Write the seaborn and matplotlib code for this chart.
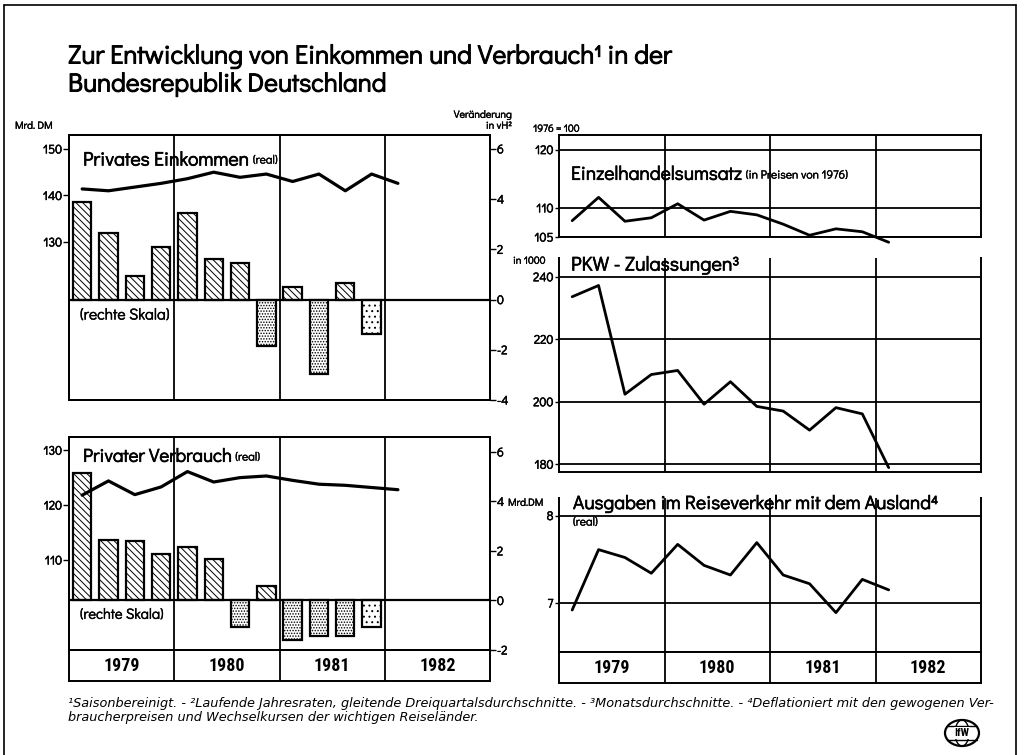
import matplotlib
matplotlib.use("Agg")
import matplotlib.pyplot as plt
import matplotlib.patheffects as pe
import seaborn as sns
from matplotlib.patches import Ellipse

# quarters 1979Q1 ... 1982Q4 -> index 0..15
years = ["1979", "1980", "1981", "1982"]
q_bars = list(range(12))   # 1979Q1 - 1981Q4
q_line = list(range(13))   # 1979Q1 - 1982Q1

# Privates Einkommen (real): Niveau Mrd. DM (links), Veränderung in vH (rechts)
einkommen_niveau = [141.4, 141.0, 141.8, 142.6, 143.6, 145.0, 143.9, 144.6, 143.0, 144.6, 141.0, 144.6, 142.6]
einkommen_veraend = [3.88, 2.66, 0.93, 2.09, 3.45, 1.63, 1.47, -1.84, 0.51, -2.96, 0.66, -1.38]

# Privater Verbrauch (real)
verbrauch_niveau = [121.8, 124.4, 121.9, 123.3, 126.1, 124.2, 125.0, 125.3, 124.5, 123.8, 123.6, 123.2, 122.8]
verbrauch_veraend = [5.16, 2.44, 2.40, 1.87, 2.17, 1.67, -1.09, 0.60, -1.60, -1.43, -1.43, -1.07]

# Einzelhandelsumsatz (1976 = 100)
einzelhandel = [107.8, 111.8, 107.7, 108.3, 110.7, 107.9, 109.4, 108.8, 107.2, 105.3, 106.4, 105.9, 104.1]
# PKW-Zulassungen (in 1000)
pkw = [233.6, 237.2, 202.4, 208.7, 210.0, 199.2, 206.4, 198.5, 197.0, 190.9, 198.1, 196.1, 178.9]
# Ausgaben im Reiseverkehr (Mrd. DM)
reise = [6.92, 7.61, 7.52, 7.34, 7.67, 7.43, 7.32, 7.69, 7.32, 7.22, 6.89, 7.27, 7.15]

sns.set_style("ticks")
MAIN = ["Didact Gothic", "DejaVu Sans"]
COND = ["Roboto Condensed", "DejaVu Sans"]
plt.rcParams["font.family"] = MAIN
plt.rcParams["axes.unicode_minus"] = False
plt.rcParams["hatch.linewidth"] = 0.7
for k in ["text.color", "axes.labelcolor", "xtick.color", "ytick.color", "axes.edgecolor"]:
    plt.rcParams[k] = "black"

W, H = 1029, 755
BOLDISH = [pe.withStroke(linewidth=0.7, foreground="black")]


def rect(x0, y0, x1, y1):
    return [x0 / W, 1 - y1 / H, (x1 - x0) / W, (y1 - y0) / H]


def fx(x, y):
    return x / W, 1 - y / H


fig = plt.figure(figsize=(10.29, 7.55), dpi=100)
renderer = fig.canvas.get_renderer()


def style_axis(ax, top=True):
    for s in ax.spines.values():
        s.set_linewidth(1.4)
        s.set_color("black")
    ax.spines["top"].set_visible(top)
    ax.set_xlim(-0.5, 15.5)
    ax.set_xticks([])
    ax.set_xlabel("")
    ax.set_ylabel("")
    ax.tick_params(axis="y", length=4, width=1, labelsize=9, pad=1, colors="black")
    for lab in ax.get_yticklabels():
        lab.set_path_effects([pe.withStroke(linewidth=0.4, foreground="black")])


def year_lines(ax):
    for b in [3.5, 7.5, 11.5]:
        ax.axvline(b, color="black", lw=1.3, zorder=1)


def year_band(r):
    band = fig.add_axes(r)
    style_axis(band)
    band.set_yticks([])
    band.set_ylim(0, 1)
    year_lines(band)
    for i, y in enumerate(years):
        band.text(1.5 + 4 * i, 0.47, y, ha="center", va="center", fontsize=13,
                  fontweight="bold", family=COND)


def left_panel(r, niveau, veraend, lim_l, lim_r, ticks_l, ticks_r):
    ax_l = fig.add_axes(r)
    ax_r = ax_l.twinx()
    sns.barplot(x=q_bars, y=veraend, ax=ax_r, native_scale=True, width=0.7,
                color="white", edgecolor="black", linewidth=1.6)
    for i, p in enumerate(ax_r.patches):
        p.set_facecolor("white")
        p.set_edgecolor("black")
        if i == len(veraend) - 1 and veraend[i] < 0:
            p.set_hatch("...")
        elif p.get_height() >= 0:
            p.set_hatch("\\\\\\\\\\")
        else:
            p.set_hatch("......")
    ax_r.axhline(0, color="black", lw=1.6)
    year_lines(ax_r)
    sns.lineplot(x=q_line, y=niveau, ax=ax_l, color="black", lw=2.3)
    ax_l.set_zorder(ax_r.get_zorder() + 1)
    ax_l.patch.set_visible(False)
    ax_l.set_ylim(*lim_l)
    ax_l.set_yticks(ticks_l)
    ax_r.set_ylim(*lim_r)
    ax_r.set_yticks(ticks_r)
    for ax in (ax_l, ax_r):
        style_axis(ax)
    ax_r.tick_params(axis="y", right=True, labelright=True)
    ax_l.tick_params(axis="y", left=True, labelleft=True)
    return ax_l, ax_r


def right_panel(r, values, lim, ticks, top_spine=False):
    ax = fig.add_axes(r)
    sns.lineplot(x=q_line, y=values, ax=ax, color="black", lw=2.0)
    ax.lines[-1].set_clip_on(False)
    ax.set_ylim(*lim)
    ax.set_yticks(ticks)
    style_axis(ax, top_spine)
    ax.tick_params(axis="y", left=True, length=3)
    for t in ticks:
        ax.axhline(t, color="black", lw=1.3, zorder=1)
    year_lines(ax)
    return ax


# left side
left_panel(rect(69, 135, 490, 400), einkommen_niveau, einkommen_veraend,
           (96, 153), (-3.95, 6.55), [130, 140, 150], [-4, -2, 0, 2, 4, 6])
left_panel(rect(69, 437, 490, 650), verbrauch_niveau, verbrauch_veraend,
           (93.6, 132.4), (-2, 6.6), [110, 120, 130], [-2, 0, 2, 4, 6])
year_band(rect(69, 650, 490, 681))

# right side
right_panel(rect(559, 135, 981, 237), einzelhandel, (105, 122.5), [105, 110, 120], top_spine=True)
right_panel(rect(559, 258, 981, 472), pkw, (177.5, 246), [180, 200, 220, 240])
right_panel(rect(559, 498, 981, 652), reise, (6.44, 8.2), [7, 8])
year_band(rect(559, 652, 981, 683))


def fit_text(x, y, s, width, **kw):
    t = fig.text(*fx(x, y), s, ha="left", va="center", fontsize=10, **kw)
    w = t.get_window_extent(renderer).width
    t.set_fontsize(10 * width / w)
    return t


def title_with_note(x, y, main, width, note=None, note_size=8.5):
    t = fit_text(x, y, main, width, path_effects=[pe.withStroke(linewidth=0.5, foreground="black")])
    bb = t.get_window_extent(renderer)
    if note:
        fig.text((bb.x1 + 4) / W, 1 - y / H, note, ha="left", va="center", fontsize=note_size,
                 path_effects=[pe.withStroke(linewidth=0.3, foreground="black")])


# title
fit_text(68, 56, "Zur Entwicklung von Einkommen und Verbrauch\u00b9 in der", 607, path_effects=BOLDISH)
fit_text(68, 84, "Bundesrepublik Deutschland", 320, path_effects=BOLDISH)

# axis unit labels
small = dict(fontsize=7.5, va="center", path_effects=[pe.withStroke(linewidth=0.3, foreground="black")])
fig.text(*fx(15, 126), "Mrd. DM", **small)
fig.text(*fx(512, 115), "Veränderung", ha="right", **small)
fig.text(*fx(512, 126), "in vH\u00b2", ha="right", **small)
fig.text(*fx(533, 129), "1976 = 100", **small)
fig.text(*fx(513, 261), "in 1000", **small)
fig.text(*fx(508, 503), "Mrd.DM", **small)

# panel titles
title_with_note(83, 160, "Privates Einkommen", 167, "(real)")
title_with_note(83, 457, "Privater Verbrauch", 150, "(real)")
title_with_note(571, 175, "Einzelhandelsumsatz", 172, "(in Preisen von 1976)")
title_with_note(571, 265, "PKW - Zulassungen\u00b3", 169)
title_with_note(573, 504, "Ausgaben im Reiseverkehr mit dem Ausland\u2074", 367)
fig.text(*fx(573, 522), "(real)", fontsize=8.5, va="center",
         path_effects=[pe.withStroke(linewidth=0.3, foreground="black")])
fit_text(80, 315, "(rechte Skala)", 90, path_effects=[pe.withStroke(linewidth=0.3, foreground="black")])
fit_text(80, 615, "(rechte Skala)", 84, path_effects=[pe.withStroke(linewidth=0.3, foreground="black")])

# footnotes
foot = fit_text(68, 703,
                "\u00b9Saisonbereinigt. - \u00b2Laufende Jahresraten, gleitende Dreiquartalsdurchschnitte. - "
                "\u00b3Monatsdurchschnitte. - \u2074Deflationiert mit den gewogenen Ver-",
                930, style="italic", family="DejaVu Sans")
fig.text(*fx(68, 717), "braucherpreisen und Wechselkursen der wichtigen Reiseländer.",
         fontsize=foot.get_fontsize(), style="italic", va="center", family="DejaVu Sans")

# logo (globe with IfW)
cx, cy = fx(962, 733)
fig.patches.append(Ellipse((cx, cy), 34 / W, 26 / H, transform=fig.transFigure, fill=False, lw=1.6, color="black"))
fig.patches.append(Ellipse((cx, cy), 14 / W, 26 / H, transform=fig.transFigure, fill=False, lw=1.0, color="black"))
for dy in (-7, 7):
    fig.add_artist(plt.Line2D([(962 - 15) / W, (962 + 15) / W], [1 - (733 + dy) / H] * 2, color="black", lw=1.0))
fig.text(cx, cy, "IfW", ha="center", va="center", fontsize=8, fontweight="bold", family=COND,
         bbox=dict(boxstyle="square,pad=0.05", fc="white", ec="none"))

# page frame
fig.add_artist(plt.Line2D([4 / W, 4 / W], [0, 1 - 5 / H], color="black", lw=1.2))
fig.add_artist(plt.Line2D([4 / W, 1016 / W], [1 - 5 / H, 1 - 5 / H], color="black", lw=1.2))
fig.add_artist(plt.Line2D([1016 / W, 1016 / W], [0, 1 - 5 / H], color="black", lw=1.2))

fig.savefig("out.png", dpi=100)
